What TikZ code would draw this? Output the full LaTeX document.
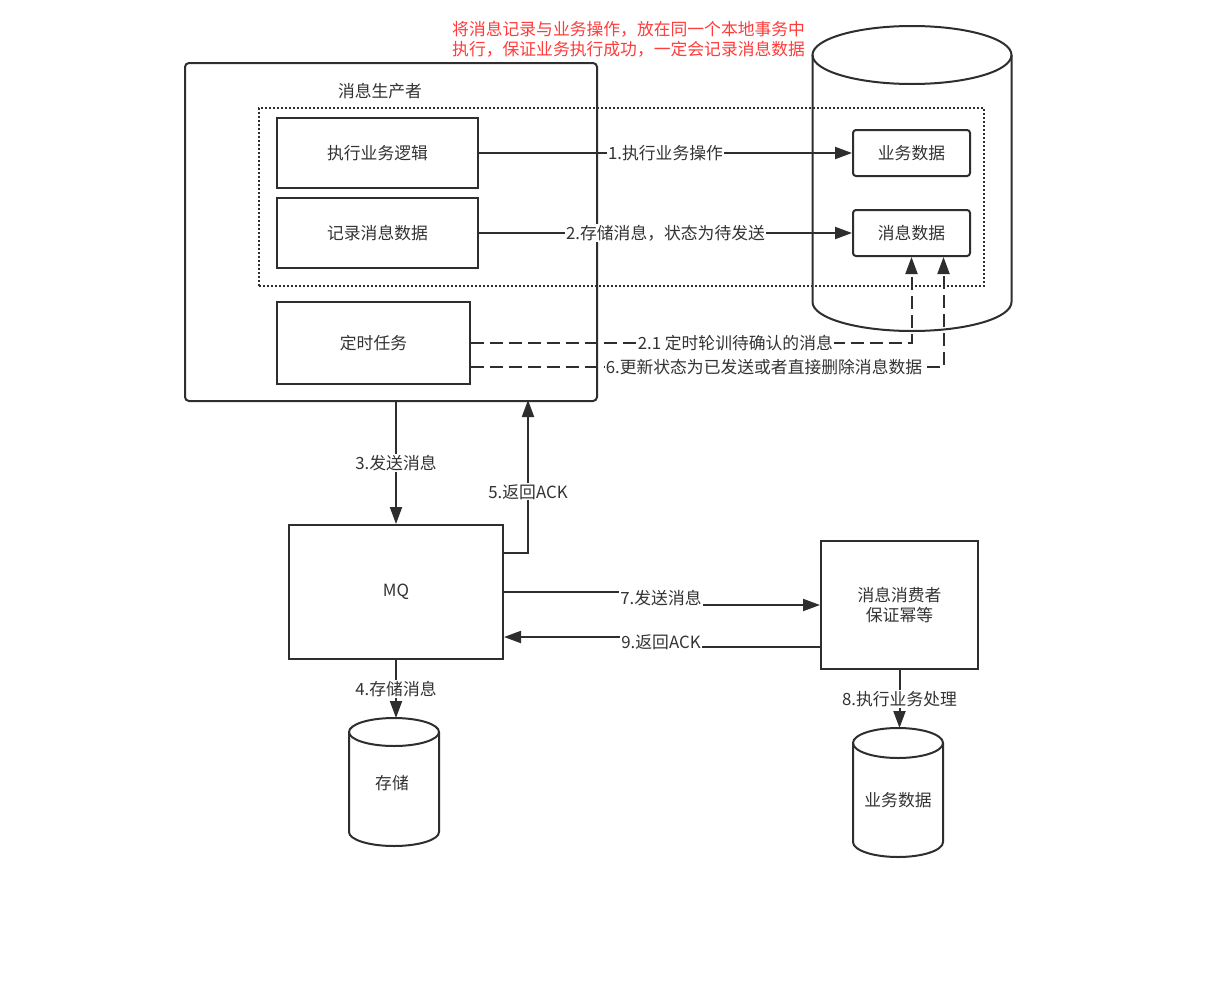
\documentclass[tikz,border=0pt]{standalone}
\usepackage{fontspec}
\setmainfont{Noto Sans CJK SC}
\usetikzlibrary{arrows.meta}
\definecolor{lc}{HTML}{2E2E2E}
\definecolor{tc}{HTML}{333333}
\definecolor{rc}{HTML}{FF3B3B}
\tikzset{
  every node/.style={font=\fontsize{16.8}{20}\selectfont, text=tc},
  box/.style={draw=lc, line width=2pt, rectangle, anchor=north west, inner sep=0pt},
  rbox/.style={box, rounded corners=3pt},
  lbl/.style={fill=white, inner sep=1pt},
  arr/.style={draw=lc, line width=2pt, -{Triangle[length=17pt,width=12pt]}},
  darr/.style={arr, dash pattern=on 13pt off 6pt},
  cyl/.style={draw=lc, line width=2pt}
}
\begin{document}
\begin{tikzpicture}[x=1pt,y=1pt]
\useasboundingbox[fill=white] (0,0) rectangle (1226,-996);

% big database cylinder
\draw[cyl] (812.5,-55) -- (812.5,-302) arc[start angle=180,end angle=360,x radius=99.5,y radius=29] -- (1011.5,-55);
\draw[cyl] (912,-55) ellipse[x radius=99.5,y radius=29];

% producer box
\node[box, rounded corners=4pt, minimum width=412pt, minimum height=338pt] (prod) at (184,-62) {};
\node (prodt) at (380,-91) {消息生产者};

% dotted transaction box
\node[box, line width=2pt, dash pattern=on 2pt off 2pt, minimum width=725pt, minimum height=178pt] (txn) at (258,-107) {};

% inner boxes
\node[box, minimum width=201pt, minimum height=70pt] (b1) at (276,-117) {};
\node at (b1.center) {执行业务逻辑};
\node[box, minimum width=201pt, minimum height=70pt] (b2) at (276,-197) {};
\node at (b2.center) {记录消息数据};
\node[box, minimum width=193pt, minimum height=82pt] (b3) at (276,-301) {};
\node at (b3.center) {定时任务};

\node[rbox, minimum width=117pt, minimum height=46pt] (yw) at (852,-129) {};
\node at (yw.center) {业务数据};
\node[rbox, minimum width=117pt, minimum height=46pt] (md) at (852,-209) {};
\node at (md.center) {消息数据};

% red note
\node[anchor=north west, align=left, text=rc, inner sep=0pt] (note) at (452,-21)
  {将消息记录与业务操作，放在同一个本地事务中\\执行，保证业务执行成功，一定会记录消息数据};

% arrows 1, 2
\draw[arr] (b1.east) -- (b1.east -| yw.west) node[lbl, pos=0.5] {1.执行业务操作};
\draw[arr] (b2.east) -- (b2.east -| md.west) node[lbl, pos=0.5] {2.存储消息，状态为待发送};

% dashed arrows 2.1, 6
\draw[darr] (b3.east) -| (md.south) node[lbl, pos=0.3] {2.1 定时轮训待确认的消息};
\draw[darr] ([yshift=-24pt]b3.east) -| ([xshift=32pt]md.south) node[lbl, pos=0.31] {6.更新状态为已发送或者直接删除消息数据};

% MQ
\node[box, minimum width=214pt, minimum height=134pt] (mq) at (288,-524) {};
\node at (mq.center) {MQ};

% consumer
\node[box, minimum width=157pt, minimum height=128pt] (cons) at (820,-540) {};
\node[align=center] at (cons.center) {消息消费者\\保证幂等};

% arrow 3
\draw[arr] (mq.north |- prod.south) -- (mq.north) node[lbl, midway] {3.发送消息};
% arrow 5
\coordinate (ack5) at (528,-400);
\draw[arr] ([yshift=-29pt]mq.north east) -| (ack5) node[lbl, pos=0.7] {5.返回ACK};

% arrow 7 and 9
\coordinate (j7) at (661,-598);
\draw[arr] (mq.east) -| (j7) |- (cons.west);
\node[lbl] at (j7) {7.发送消息};
\coordinate (j9) at (661,-642);
\draw[arr] ([yshift=-42pt]cons.west) -| (j9) |- ([yshift=-45pt]mq.east);
\node[lbl] at (j9) {9.返回ACK};

% storage cylinder
\draw[cyl] (349,-732) -- (349,-832) arc[start angle=180,end angle=360,x radius=45,y radius=14] -- (439,-732);
\draw[cyl] (394,-732) ellipse[x radius=45,y radius=14];
\coordinate (sttop) at (394,-718);
\node (st) at (392,-783) {存储};
\draw[arr] (mq.south) -- (mq.south |- sttop) node[lbl, midway] {4.存储消息};

% business data cylinder
\draw[cyl] (853,-743) -- (853,-842) arc[start angle=180,end angle=360,x radius=45,y radius=15] -- (943,-743);
\draw[cyl] (898,-743) ellipse[x radius=45,y radius=15];
\coordinate (bdtop) at (898,-728);
\node (bd) at (898,-800) {业务数据};
\draw[arr] (cons.south) -- (cons.south |- bdtop) node[lbl, midway] {8.执行业务处理};
\end{tikzpicture}
\end{document}
